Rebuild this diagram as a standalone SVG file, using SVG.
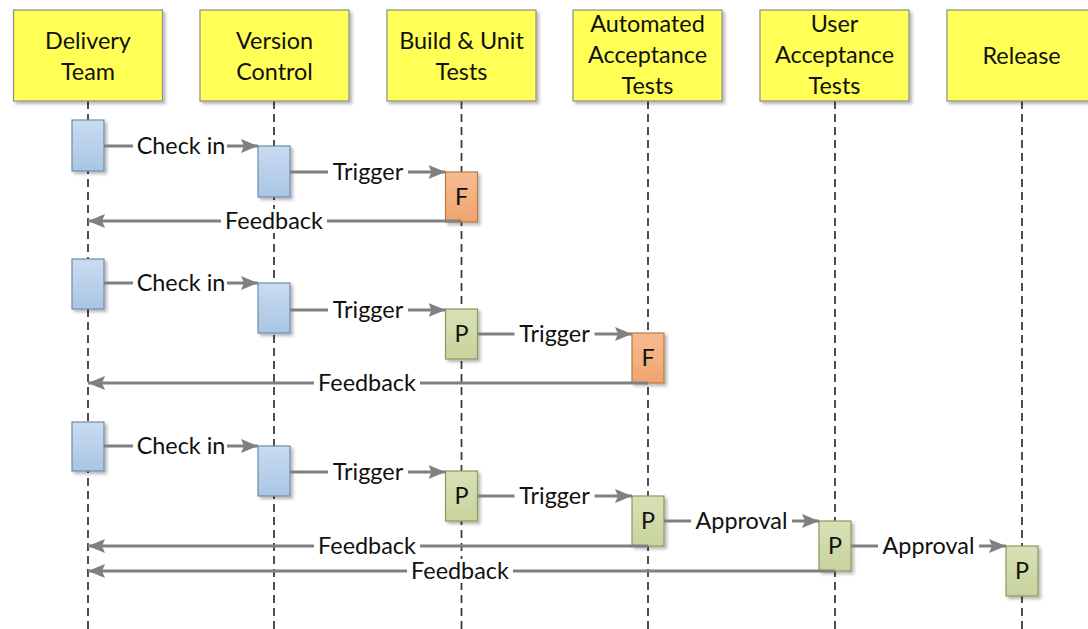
<svg xmlns="http://www.w3.org/2000/svg" width="1088" height="629" viewBox="0 0 1088 629">
<defs>
<filter id="sh" x="-20%" y="-20%" width="150%" height="150%">
<feDropShadow dx="2.5" dy="2.5" stdDeviation="1.5" flood-color="#000" flood-opacity="0.28"/>
</filter>
<linearGradient id="gb" x1="0" y1="0" x2="0" y2="1"><stop offset="0" stop-color="#c9dcf0"/><stop offset="1" stop-color="#a9c5e4"/></linearGradient>
<linearGradient id="gg" x1="0" y1="0" x2="0" y2="1"><stop offset="0" stop-color="#d8e1b6"/><stop offset="1" stop-color="#c7d39c"/></linearGradient>
<linearGradient id="go" x1="0" y1="0" x2="0" y2="1"><stop offset="0" stop-color="#f7bc92"/><stop offset="1" stop-color="#f0a46e"/></linearGradient>
<marker id="ah" markerUnits="userSpaceOnUse" markerWidth="18" markerHeight="16" refX="17" refY="7" orient="auto">
<path d="M0,0 L17,7 L0,14 L3,7 Z" fill="#808080"/>
</marker>
<style>
text{font-family:Lato,"Open Sans","Liberation Sans",sans-serif;font-size:23.4px;fill:#111;text-anchor:middle}
.hd{fill:#ffff55;stroke:#8c8c8c;stroke-width:1.2;filter:url(#sh)}
.ll{stroke:#3c3c3c;stroke-width:1.8;stroke-dasharray:8 5;fill:none}
.ab{fill:url(#gb);stroke:#6c8cb0;stroke-width:1.2;filter:url(#sh)}
.ag{fill:url(#gg);stroke:#8a985c;stroke-width:1.2;filter:url(#sh)}
.ao{fill:url(#go);stroke:#b87a44;stroke-width:1.2;filter:url(#sh)}
.ar{stroke:#808080;stroke-width:3;fill:none;marker-end:url(#ah)}
.bg{fill:#fff}
</style>
</defs>
<rect width="1088" height="629" fill="#fff"/>

<g id="lifelines">
<line class="ll" x1="88" y1="101" x2="88" y2="629"/>
<line class="ll" x1="274" y1="101" x2="274" y2="629"/>
<line class="ll" x1="461.5" y1="101" x2="461.5" y2="629"/>
<line class="ll" x1="648" y1="101" x2="648" y2="629"/>
<line class="ll" x1="835" y1="101" x2="835" y2="629"/>
<line class="ll" x1="1022" y1="101" x2="1022" y2="629"/>
</g>

<g id="h-delivery"><rect class="hd" x="13.5" y="10" width="149" height="91"/><text x="88" y="49">Delivery</text><text x="88" y="80">Team</text></g>
<g id="h-version"><rect class="hd" x="200" y="10" width="149" height="91"/><text x="274.5" y="49">Version</text><text x="274.5" y="80">Control</text></g>
<g id="h-build"><rect class="hd" x="387" y="10" width="149" height="91"/><text x="461.5" y="49">Build &amp; Unit</text><text x="461.5" y="80">Tests</text></g>
<g id="h-auto"><rect class="hd" x="573" y="10" width="149" height="91"/><text x="647.5" y="32">Automated</text><text x="647.5" y="63">Acceptance</text><text x="647.5" y="94">Tests</text></g>
<g id="h-user"><rect class="hd" x="760" y="10" width="149" height="91"/><text x="834.5" y="32">User</text><text x="834.5" y="63">Acceptance</text><text x="834.5" y="94">Tests</text></g>
<g id="h-release"><rect class="hd" x="947" y="10" width="149" height="91"/><text x="1021.5" y="64">Release</text></g>

<g id="act-r1">
<rect class="ab" x="72" y="120" width="32" height="51"/>
<rect class="ab" x="258" y="146" width="32" height="51"/>
<rect class="ao" x="445.5" y="172" width="32" height="50"/><text x="461.5" y="205">F</text>
</g>
<g id="act-r2">
<rect class="ab" x="72" y="259" width="32" height="50"/>
<rect class="ab" x="258" y="283" width="32" height="50"/>
<rect class="ag" x="445.5" y="309" width="32" height="50"/><text x="461.5" y="342">P</text>
<rect class="ao" x="632" y="333" width="32" height="50"/><text x="648" y="366">F</text>
</g>
<g id="act-r3">
<rect class="ab" x="72" y="422" width="32" height="49"/>
<rect class="ab" x="258" y="446" width="32" height="50"/>
<rect class="ag" x="445.5" y="471" width="32" height="50"/><text x="461.5" y="504">P</text>
<rect class="ag" x="632" y="496" width="32" height="50"/><text x="648" y="529">P</text>
<rect class="ag" x="819" y="521" width="32" height="50"/><text x="835" y="554">P</text>
<rect class="ag" x="1006" y="546" width="32" height="50"/><text x="1022" y="579">P</text>
</g>

<g id="connectors">
<line class="ar" x1="104" y1="146" x2="258" y2="146"/><rect class="bg" x="133" y="134" width="94" height="24"/><text x="181" y="154">Check in</text>
<line class="ar" x1="290" y1="172" x2="445.5" y2="172"/><rect class="bg" x="328" y="160" width="80" height="26"/><text x="368" y="180">Trigger</text>
<line class="ar" x1="461.5" y1="221" x2="88" y2="221"/><rect class="bg" x="221" y="209" width="106" height="24"/><text x="274" y="229">Feedback</text>

<line class="ar" x1="104" y1="283" x2="258" y2="283"/><rect class="bg" x="133" y="271" width="94" height="24"/><text x="181" y="291">Check in</text>
<line class="ar" x1="290" y1="310" x2="445.5" y2="310"/><rect class="bg" x="328" y="298" width="80" height="26"/><text x="368" y="318">Trigger</text>
<line class="ar" x1="477.5" y1="334" x2="632" y2="334"/><rect class="bg" x="514.5" y="322" width="80" height="26"/><text x="554.5" y="342">Trigger</text>
<line class="ar" x1="648" y1="383" x2="88" y2="383"/><rect class="bg" x="314" y="371" width="106" height="24"/><text x="367" y="391">Feedback</text>

<line class="ar" x1="104" y1="446" x2="258" y2="446"/><rect class="bg" x="133" y="434" width="94" height="24"/><text x="181" y="454">Check in</text>
<line class="ar" x1="290" y1="472" x2="445.5" y2="472"/><rect class="bg" x="328" y="460" width="80" height="26"/><text x="368" y="480">Trigger</text>
<line class="ar" x1="477.5" y1="496" x2="632" y2="496"/><rect class="bg" x="514.5" y="484" width="80" height="26"/><text x="554.5" y="504">Trigger</text>
<line class="ar" x1="664" y1="521" x2="819" y2="521"/><rect class="bg" x="691" y="509" width="101" height="26"/><text x="741.5" y="529">Approval</text>
<line class="ar" x1="851" y1="546" x2="1006" y2="546"/><rect class="bg" x="878" y="534" width="101" height="26"/><text x="928.5" y="554">Approval</text>
<line class="ar" x1="648" y1="546" x2="88" y2="546"/><rect class="bg" x="314" y="534" width="106" height="24"/><text x="367" y="554">Feedback</text>
<line class="ar" x1="835" y1="571" x2="88" y2="571"/><rect class="bg" x="407" y="559" width="106" height="24"/><text x="460" y="579">Feedback</text>
</g>
</svg>
